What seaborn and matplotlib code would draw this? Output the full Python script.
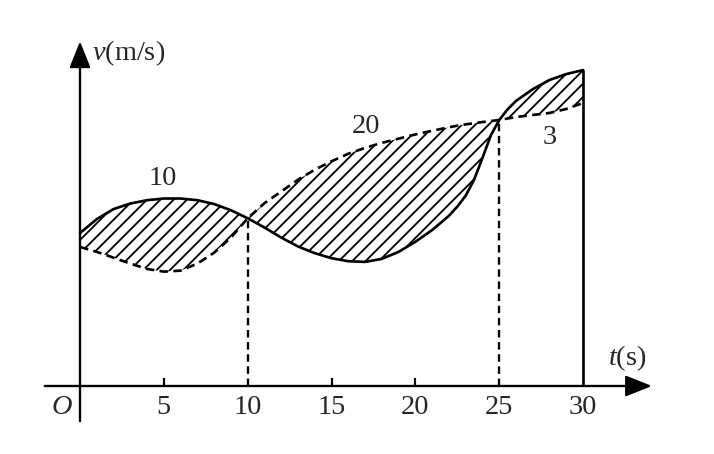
import matplotlib
matplotlib.use("Agg")
import matplotlib.pyplot as plt
import pandas as pd
import seaborn as sns

# velocity readings (same unit scale as the t axis), denser where the curve is steep
t = [0, 1, 2, 3, 4, 5, 6, 7, 8, 9,
     10, 11, 12, 13, 14, 15, 16, 17, 18, 19,
     20, 21, 22, 22.5, 23, 23.5, 24, 24.5, 25, 25.5,
     26, 27, 28, 29, 30]
v_solid = [9.12, 9.95, 10.55, 10.88, 11.08, 11.18, 11.18, 11.08, 10.85, 10.48,
           10.00, 9.45, 8.85, 8.32, 7.92, 7.62, 7.44, 7.40, 7.58, 8.00,
           8.60, 9.30, 10.15, 10.70, 11.35, 12.30, 13.60, 14.95, 15.86, 16.50,
           17.00, 17.70, 18.25, 18.60, 18.84]
v_dashed = [8.29, 8.00, 7.65, 7.30, 6.98, 6.82, 6.88, 7.30, 7.95, 8.85,
            10.00, 10.90, 11.60, 12.30, 12.90, 13.40, 13.85, 14.20, 14.50, 14.75,
            15.00, 15.22, 15.43, 15.52, 15.60, 15.67, 15.74, 15.80, 15.86, 15.95,
            16.04, 16.16, 16.28, 16.52, 16.88]
tick_vals = [5, 10, 15, 20, 25, 30]
minor_ticks = [5, 15, 20]
area_labels = ["10", "20", "3"]
area_pos_t = [4.95, 17.05, 28.03]
area_pos_v = [12.4, 15.5, 14.82]

df = pd.DataFrame({"t": t, "solid": v_solid, "dashed": v_dashed})

sns.set_style("white")
plt.rcParams['font.family'] = ['Liberation Serif', 'DejaVu Serif']
plt.rcParams['mathtext.fontset'] = 'custom'
plt.rcParams['mathtext.rm'] = 'Liberation Serif'
plt.rcParams['mathtext.it'] = 'Liberation Serif:italic'
plt.rcParams['hatch.linewidth'] = 1.1

fig = plt.figure(figsize=(714 / 120, 454 / 120), dpi=120)
ax = fig.add_axes([0, 0, 1, 1])
ax.set_xlim(-80 / 16.77, 634 / 16.77)
ax.set_ylim(-68 / 16.77, 386 / 16.77)
ax.axis("off")

# shaded area between the two curves
ax.fill_between(df["t"], df["solid"], df["dashed"], facecolor="none",
                edgecolor="black", hatch="///", linewidth=0)

sns.lineplot(data=df, x="t", y="solid", ax=ax, color="black", lw=1.6)
sns.lineplot(data=df, x="t", y="dashed", ax=ax, color="black", lw=1.6,
             linestyle=(0, (3.2, 2.0)))

# axes with arrows
head = "-|>,head_length=0.75,head_width=0.3"
ax.annotate("", xy=(34.3, 0), xytext=(-2.3, 0),
            arrowprops=dict(arrowstyle=head, lw=1.4, color="black", mutation_scale=18))
ax.annotate("", xy=(0, 20.75), xytext=(0, -2.3),
            arrowprops=dict(arrowstyle=head, lw=1.4, color="black", mutation_scale=18))

# guide lines and ticks
i10, i25, i30 = t.index(10), t.index(25), t.index(30)
ax.vlines([10, 25], 0, [v_solid[i10], v_solid[i25]], colors="black",
          lw=1.4, linestyles=(0, (3.2, 2.0)))
ax.vlines(30, 0, v_solid[i30], colors="black", lw=1.6)
ax.vlines(minor_ticks, 0, 0.5, colors="black", lw=1.3)

for tv in tick_vals:
    ax.text(tv, -1.31, str(tv), ha="center", va="center", fontsize=17)
ax.text(-1.07, -1.31, "$O$", ha="center", va="center", fontsize=17)

for lab, x, y in zip(area_labels, area_pos_t, area_pos_v):
    ax.text(x, y, lab, ha="center", va="center", fontsize=17)

ax.text(0.72, 19.86, "$v$(m/s)", ha="left", va="center", fontsize=17)
ax.text(32.65, 1.67, "$t$(s)", ha="center", va="center", fontsize=17)

fig.savefig("out.png", dpi=120, facecolor="white")
